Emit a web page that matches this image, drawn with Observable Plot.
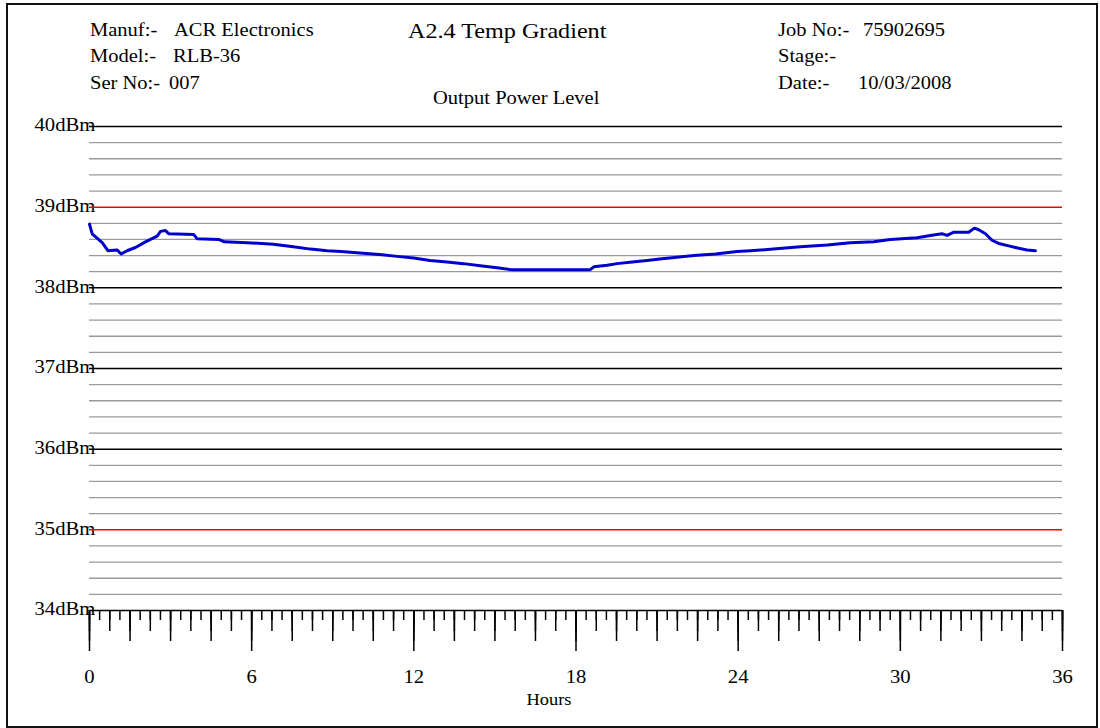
<!DOCTYPE html>
<html>
<head>
<meta charset="utf-8">
<script src="https://cdn.jsdelivr.net/npm/d3@7"></script>
<script src="https://cdn.jsdelivr.net/npm/@observablehq/plot@0.6"></script>
<style>
  html, body { margin: 0; padding: 0; background: #fff; }
  #wrap { position: relative; width: 1100px; height: 728px; overflow: hidden; font-family: "Liberation Serif", "Times New Roman", serif; color: #000; }
  #header { position: relative; width: 1100px; height: 110px; }
  #header span { position: absolute; white-space: pre; font-size: 18px; line-height: 18px; transform: scaleX(1.14); transform-origin: left center; }
  #header span.title { font-size: 21px; line-height: 21px; transform: scaleX(1.15); }
  #frame { position: absolute; left: 6px; top: 3px; width: 1088px; height: 721px; border: 2px solid #111; pointer-events: none; }
</style>
</head>
<body>
<div id="wrap">
  <div id="header"></div>
  <div id="chart"></div>
  <div id="frame"></div>
</div>
<script>
// ---- data ----
const hours = [0, 0.1, 0.47, 0.68, 1.02, 1.17, 1.39, 1.7, 2.07, 2.5, 2.63, 2.81, 2.94, 3.86, 3.98, 4.78, 4.99, 5.83, 6.8, 7.54, 8.18, 8.8, 9.3, 9.66, 10.83, 11.38, 11.99, 12.6, 13.23, 13.84, 14.53, 15.08, 15.58, 18.53, 18.66, 19.15, 19.52, 20.08, 20.63, 21.18, 21.74, 22.36, 23.16, 23.96, 24.45, 25.3, 26.3, 27.3, 28.15, 29.02, 29.63, 30.62, 31.11, 31.54, 31.73, 31.98, 32.53, 32.74, 32.9, 33.15, 33.39, 33.64, 34.01, 34.38, 34.69, 35.0];
const powerDbm = [38.79, 38.67, 38.56, 38.46, 38.47, 38.42, 38.46, 38.50, 38.57, 38.64, 38.70, 38.71, 38.67, 38.66, 38.61, 38.60, 38.57, 38.56, 38.54, 38.51, 38.48, 38.46, 38.45, 38.44, 38.41, 38.39, 38.37, 38.34, 38.32, 38.30, 38.27, 38.25, 38.225, 38.225, 38.26, 38.28, 38.30, 38.32, 38.34, 38.36, 38.38, 38.40, 38.42, 38.45, 38.46, 38.48, 38.51, 38.53, 38.56, 38.57, 38.60, 38.62, 38.65, 38.67, 38.65, 38.69, 38.69, 38.74, 38.72, 38.67, 38.59, 38.55, 38.52, 38.49, 38.47, 38.46];

const yLabelValues = [40, 39, 38, 37, 36, 35, 34];
const blackLines = [40, 38, 37, 36, 34];
const redLines = [39, 35];
const xLabelValues = [0, 6, 12, 18, 24, 30, 36];

const headerItems = [
  {t: "Manuf:-", x: 90, b: 35.7}, {t: "ACR Electronics", x: 174, b: 35.7},
  {t: "Model:-", x: 90, b: 62.3}, {t: "RLB-36", x: 173, b: 62.3},
  {t: "Ser No:-", x: 90, b: 89}, {t: "007", x: 169, b: 89},
  {t: "Job No:-", x: 778, b: 35.7}, {t: "75902695", x: 863, b: 35.7},
  {t: "Stage:-", x: 778, b: 62.3},
  {t: "Date:-", x: 778, b: 89}, {t: "10/03/2008", x: 858, b: 89},
  {t: "Output Power Level", x: 433, b: 104.3}
];
const titleText = "A2.4 Temp Gradient";

// ---- header ----
const header = document.getElementById("header");
for (const h of headerItems) {
  const s = document.createElement("span");
  s.textContent = h.t;
  s.style.left = h.x + "px";
  s.style.top = (h.b - 0.8375 * 18) + "px";
  header.appendChild(s);
}
const ts = document.createElement("span");
ts.className = "title";
ts.textContent = titleText;
ts.style.left = "408px";
ts.style.top = (39 - 0.8375 * 21) + "px";
header.appendChild(ts);

// ---- grid helper values ----
const minorLines = d3.range(34, 40.001, 0.2).map(v => +v.toFixed(1)).filter(v => Math.abs(v - Math.round(v)) > 1e-6);
const t0375 = d3.range(0, 36.001, 0.375);
const t075 = d3.range(0, 36.001, 0.75);
const t15 = d3.range(0, 36.001, 1.5);

const rows = hours.map((h, i) => ({h, p: powerDbm[i]}));

const chart = Plot.plot({
  width: 1100,
  height: 618,
  marginTop: 16,
  marginBottom: 118,
  marginLeft: 89,
  marginRight: 38,
  x: {domain: [0, 36], axis: null},
  y: {domain: [34, 40], axis: null},
  style: {fontFamily: "Liberation Serif, Times New Roman, serif", fontSize: "18px", background: "transparent", color: "#000", overflow: "visible"},
  marks: [
    Plot.text(yLabelValues, {y: d => d, text: d => `${d}dBm`, frameAnchor: "left", textAnchor: "start", dx: -55, dy: -1, fill: "#000"}),
    Plot.ruleY(minorLines, {stroke: "#9a9a9a", strokeWidth: 1.3}),
    Plot.ruleY(blackLines, {stroke: "#000", strokeWidth: 1.5}),
    Plot.ruleY(redLines, {stroke: "#ee0000", strokeWidth: 1.5}),
    Plot.axisX(t0375, {anchor: "bottom", tickSize: 10, tickFormat: () => "", label: null, stroke: "#000", strokeWidth: 1.5}),
    Plot.axisX(t075, {anchor: "bottom", tickSize: 21, tickFormat: () => "", label: null, stroke: "#000", strokeWidth: 1.5}),
    Plot.axisX(t15, {anchor: "bottom", tickSize: 31, tickFormat: () => "", label: null, stroke: "#000", strokeWidth: 1.5}),
    Plot.axisX(xLabelValues, {anchor: "bottom", tickSize: 41, tickPadding: 19, tickFormat: d => `${d}`, label: null, stroke: "#000", strokeWidth: 1.5, fill: "#000"}),
    Plot.line(rows, {x: "h", y: "p", stroke: "#0000cc", strokeWidth: 3, strokeLinejoin: "round"}),
    Plot.text(["Hours"], {text: d => d, frameAnchor: "bottom", dx: -27, dy: 94, fontSize: 16, fill: "#000"})
  ]
});
document.getElementById("chart").appendChild(chart);

// Reference glyphs are horizontally stretched (~15%): append a local horizontal scale
// after Plot's own translate, so each text stays anchored where Plot placed it.
chart.querySelectorAll("text").forEach(t => {
  if (t.hasAttribute("x") && +t.getAttribute("x") !== 0) return;
  const tr = t.getAttribute("transform") || "";
  t.setAttribute("transform", (tr + " scale(1.15,1)").trim());
});
</script>
</body>
</html>
